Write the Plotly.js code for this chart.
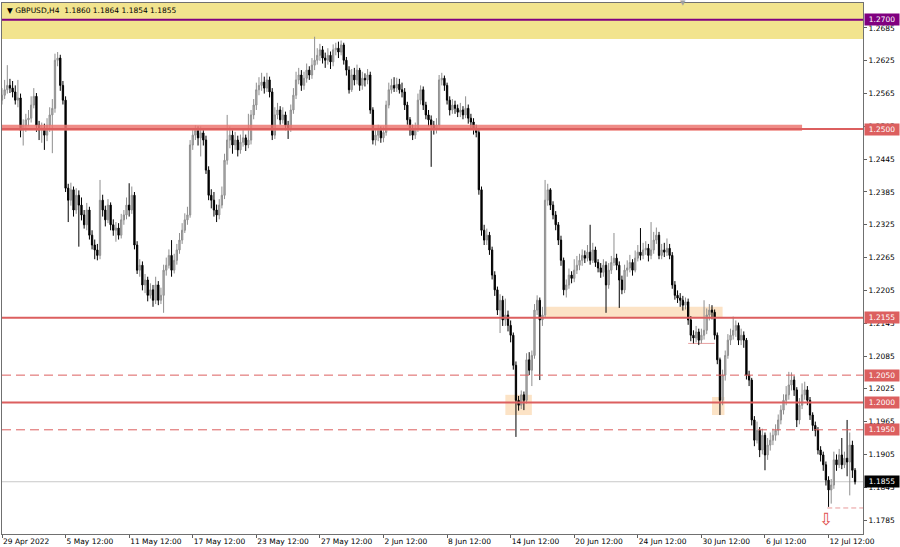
<!DOCTYPE html>
<html><head><meta charset="utf-8">
<script src="https://cdn.plot.ly/plotly-3.0.1.min.js"></script>
<style>html,body{margin:0;padding:0;background:#fff;}#chart{width:900px;height:547px;}</style>
</head><body><div id="chart"></div>
<script>
// GBPUSD H4 bars, 29 Apr 2022 12:00 onward (one value per bar)
const firstOpen = 1.2553;
const closes = [
1.2562,1.2572,1.2580,1.2575,1.2568,1.2553,1.2557,1.2498,1.2507,1.2517,
1.2520,1.2544,1.2560,1.2507,1.2498,1.2502,1.2489,1.2507,1.2526,1.2538,
1.2626,1.2630,1.2580,1.2553,1.2392,1.2370,1.2389,1.2352,1.2379,1.2361,
1.2343,1.2325,1.2352,1.2306,1.2288,1.2279,1.2269,1.2370,1.2352,1.2334,
1.2361,1.2325,1.2315,1.2319,1.2306,1.2334,1.2343,1.2361,1.2352,1.2379,
1.2288,1.2242,1.2251,1.2215,1.2224,1.2196,1.2206,1.2187,1.2215,1.2187,
1.2196,1.2242,1.2251,1.2269,1.2242,1.2260,1.2279,1.2297,1.2315,1.2334,
1.2343,1.2471,1.2489,1.2498,1.2484,1.2493,1.2480,1.2425,1.2379,1.2370,
1.2352,1.2343,1.2361,1.2379,1.2443,1.2480,1.2489,1.2471,1.2480,1.2462,
1.2476,1.2484,1.2471,1.2480,1.2526,1.2544,1.2572,1.2580,1.2586,1.2575,
1.2590,1.2568,1.2489,1.2526,1.2535,1.2517,1.2526,1.2507,1.2502,1.2535,
1.2562,1.2590,1.2599,1.2580,1.2593,1.2608,1.2599,1.2617,1.2626,1.2635,
1.2645,1.2630,1.2626,1.2635,1.2623,1.2645,1.2648,1.2641,1.2654,1.2626,
1.2608,1.2572,1.2599,1.2590,1.2608,1.2580,1.2593,1.2590,1.2599,1.2535,
1.2480,1.2489,1.2498,1.2484,1.2494,1.2544,1.2572,1.2580,1.2575,1.2582,
1.2572,1.2568,1.2544,1.2517,1.2498,1.2489,1.2502,1.2553,1.2572,1.2544,
1.2526,1.2517,1.2507,1.2502,1.2507,1.2590,1.2593,1.2580,1.2553,1.2535,
1.2544,1.2538,1.2531,1.2535,1.2526,1.2538,1.2520,1.2513,1.2502,1.2494,
1.2389,1.2315,1.2297,1.2306,1.2279,1.2233,1.2206,1.2169,1.2187,1.2151,
1.2160,1.2141,1.2123,1.2068,1.2004,1.1995,1.2014,1.2004,1.2078,1.2059,
1.2086,1.2169,1.2187,1.2151,1.2160,1.2370,1.2389,1.2361,1.2343,1.2325,
1.2297,1.2260,1.2206,1.2215,1.2233,1.2227,1.2242,1.2251,1.2260,1.2269,
1.2264,1.2275,1.2260,1.2279,1.2256,1.2246,1.2238,1.2251,1.2215,1.2242,
1.2256,1.2264,1.2251,1.2224,1.2206,1.2242,1.2246,1.2256,1.2242,1.2264,
1.2275,1.2269,1.2279,1.2282,1.2269,1.2279,1.2297,1.2306,1.2269,1.2279,
1.2275,1.2282,1.2269,1.2215,1.2196,1.2191,1.2187,1.2178,1.2184,1.2151,
1.2123,1.2118,1.2129,1.2114,1.2123,1.2132,1.2160,1.2169,1.2165,1.2123,
1.2078,1.2004,1.2050,1.2086,1.2114,1.2123,1.2132,1.2141,1.2114,1.2123,
1.2114,1.2050,1.2041,1.1968,1.1931,1.1949,1.1913,1.1940,1.1904,1.1922,
1.1931,1.1940,1.1949,1.1968,1.1986,1.2004,1.2014,1.2032,1.2041,1.2023,
1.1968,1.1995,1.2014,1.2023,1.2004,1.1977,1.1958,1.1949,1.1913,1.1904,
1.1886,1.1858,1.1840,1.1849,1.1895,1.1886,1.1904,1.1886,1.1898,1.1891,
1.1922,1.1876,1.1855];
const highs = [
1.2575,1.2590,1.2617,1.2592,1.2588,1.2580,1.2590,1.2565,1.2518,1.2528,
1.2535,1.2560,1.2575,1.2566,1.2515,1.2512,1.2510,1.2520,1.2540,1.2555,
1.2638,1.2641,1.2636,1.2588,1.2560,1.2400,1.2402,1.2395,1.2392,1.2388,
1.2375,1.2352,1.2365,1.2358,1.2315,1.2298,1.2290,1.2407,1.2380,1.2360,
1.2372,1.2366,1.2335,1.2330,1.2328,1.2345,1.2352,1.2375,1.2401,1.2395,
1.2385,1.2295,1.2262,1.2258,1.2235,1.2230,1.2218,1.2215,1.2230,1.2222,
1.2210,1.2252,1.2265,1.2280,1.2297,1.2272,1.2290,1.2310,1.2328,1.2346,
1.2358,1.2480,1.2500,1.2507,1.2505,1.2505,1.2502,1.2488,1.2432,1.2390,
1.2385,1.2362,1.2372,1.2395,1.2455,1.2526,1.2505,1.2498,1.2495,1.2488,
1.2490,1.2500,1.2490,1.2528,1.2535,1.2555,1.2585,1.2595,1.2603,1.2596,
1.2603,1.2596,1.2575,1.2540,1.2548,1.2542,1.2540,1.2532,1.2515,1.2545,
1.2575,1.2605,1.2612,1.2608,1.2605,1.2620,1.2615,1.2630,1.2669,1.2648,
1.2656,1.2652,1.2640,1.2648,1.2642,1.2655,1.2658,1.2660,1.2662,1.2658,
1.2632,1.2615,1.2610,1.2612,1.2618,1.2612,1.2605,1.2602,1.2610,1.2605,
1.2540,1.2500,1.2508,1.2505,1.2505,1.2552,1.2585,1.2592,1.2595,1.2594,
1.2592,1.2585,1.2575,1.2550,1.2522,1.2508,1.2512,1.2565,1.2580,1.2578,
1.2550,1.2535,1.2525,1.2515,1.2520,1.2599,1.2603,1.2598,1.2585,1.2560,
1.2555,1.2552,1.2545,1.2548,1.2542,1.2560,1.2545,1.2528,1.2520,1.2508,
1.2500,1.2395,1.2325,1.2318,1.2312,1.2285,1.2240,1.2212,1.2198,1.2195,
1.2190,1.2168,1.2150,1.2128,1.2075,1.2012,1.2022,1.2020,1.2090,1.2092,
1.2095,1.2180,1.2196,1.2192,1.2175,1.2407,1.2400,1.2392,1.2368,1.2350,
1.2330,1.2305,1.2265,1.2225,1.2245,1.2240,1.2262,1.2268,1.2272,1.2280,
1.2278,1.2288,1.2325,1.2292,1.2285,1.2262,1.2255,1.2262,1.2258,1.2255,
1.2268,1.2310,1.2272,1.2258,1.2232,1.2252,1.2260,1.2270,1.2262,1.2278,
1.2288,1.2319,1.2292,1.2295,1.2290,1.2330,1.2312,1.2320,1.2312,1.2290,
1.2292,1.2300,1.2290,1.2275,1.2222,1.2205,1.2200,1.2195,1.2192,1.2190,
1.2158,1.2132,1.2140,1.2135,1.2135,1.2187,1.2172,1.2180,1.2178,1.2170,
1.2128,1.2082,1.2060,1.2095,1.2125,1.2135,1.2157,1.2150,1.2146,1.2135,
1.2130,1.2118,1.2058,1.2045,1.1975,1.1965,1.1955,1.1952,1.1945,1.1935,
1.1945,1.1952,1.1960,1.1978,1.1995,1.2015,1.2030,1.2056,1.2055,1.2048,
1.2028,1.2008,1.2035,1.2038,1.2030,1.2010,1.1982,1.1965,1.1955,1.1920,
1.1910,1.1892,1.1865,1.1860,1.1910,1.1905,1.1915,1.1935,1.1910,1.1968,
1.1945,1.1930,1.1880];
const lows = [
1.2545,1.2555,1.2565,1.2566,1.2558,1.2545,1.2540,1.2485,1.2470,1.2495,
1.2505,1.2512,1.2538,1.2495,1.2480,1.2475,1.2462,1.2478,1.2495,1.2456,
1.2530,1.2615,1.2570,1.2545,1.2385,1.2330,1.2360,1.2340,1.2345,1.2285,
1.2333,1.2318,1.2315,1.2298,1.2280,1.2262,1.2260,1.2262,1.2340,1.2322,
1.2328,1.2315,1.2305,1.2294,1.2298,1.2300,1.2325,1.2335,1.2340,1.2345,
1.2280,1.2235,1.2230,1.2205,1.2200,1.2185,1.2190,1.2175,1.2180,1.2178,
1.2180,1.2164,1.2232,1.2245,1.2230,1.2236,1.2252,1.2272,1.2290,1.2310,
1.2325,1.2338,1.2462,1.2480,1.2470,1.2450,1.2470,1.2418,1.2370,1.2355,
1.2340,1.2330,1.2335,1.2355,1.2372,1.2435,1.2465,1.2455,1.2462,1.2450,
1.2455,1.2468,1.2460,1.2465,1.2472,1.2518,1.2535,1.2562,1.2570,1.2565,
1.2568,1.2558,1.2480,1.2482,1.2518,1.2508,1.2510,1.2498,1.2482,1.2495,
1.2528,1.2555,1.2582,1.2570,1.2572,1.2585,1.2590,1.2592,1.2608,1.2618,
1.2625,1.2620,1.2612,1.2618,1.2610,1.2615,1.2635,1.2630,1.2635,1.2618,
1.2598,1.2565,1.2568,1.2580,1.2582,1.2570,1.2572,1.2578,1.2582,1.2528,
1.2472,1.2470,1.2478,1.2475,1.2476,1.2488,1.2538,1.2565,1.2568,1.2568,
1.2565,1.2558,1.2535,1.2508,1.2488,1.2480,1.2482,1.2495,1.2545,1.2535,
1.2518,1.2505,1.2431,1.2490,1.2492,1.2500,1.2580,1.2570,1.2545,1.2525,
1.2528,1.2528,1.2522,1.2522,1.2518,1.2520,1.2510,1.2500,1.2490,1.2485,
1.2380,1.2305,1.2288,1.2288,1.2270,1.2225,1.2195,1.2160,1.2127,1.2140,
1.2140,1.2130,1.2110,1.2060,1.1937,1.1985,1.1988,1.1986,1.1998,1.2050,
1.2030,1.2080,1.2160,1.2041,1.2140,1.2155,1.2360,1.2352,1.2335,1.2315,
1.2288,1.2250,1.2196,1.2192,1.2208,1.2218,1.2220,1.2235,1.2242,1.2250,
1.2255,1.2258,1.2252,1.2255,1.2248,1.2238,1.2228,1.2230,1.2164,1.2208,
1.2235,1.2250,1.2242,1.2173,1.2198,1.2200,1.2230,1.2238,1.2232,1.2238,
1.2258,1.2260,1.2262,1.2270,1.2258,1.2262,1.2272,1.2290,1.2262,1.2262,
1.2266,1.2268,1.2262,1.2208,1.2188,1.2182,1.2175,1.2168,1.2170,1.2142,
1.2112,1.2108,1.2110,1.2105,1.2108,1.2115,1.2125,1.2150,1.2152,1.2115,
1.2070,1.1977,1.1995,1.2040,1.2080,1.2105,1.2115,1.2120,1.2105,1.2105,
1.2100,1.2042,1.2030,1.1958,1.1920,1.1925,1.1900,1.1905,1.1876,1.1895,
1.1912,1.1922,1.1930,1.1940,1.1960,1.1978,1.1995,1.2005,1.2022,1.2012,
1.1955,1.1960,1.1988,1.2005,1.1995,1.1968,1.1948,1.1938,1.1905,1.1892,
1.1875,1.1848,1.1809,1.1815,1.1842,1.1875,1.1880,1.1878,1.1880,1.1865,
1.1830,1.1862,1.1850];

const tickBars = [0,24,48,72,96,120,144,168,192,216,240,264,288,312];
const tickLabels = ['29 Apr 2022','5 May 12:00','11 May 12:00','17 May 12:00','23 May 12:00','27 May 12:00','2 Jun 12:00','8 Jun 12:00','14 Jun 12:00','20 Jun 12:00','24 Jun 12:00','30 Jun 12:00','6 Jul 12:00','12 Jul 12:00'];
const yTicks = [1.1785,1.1845,1.1905,1.1965,1.2025,1.2085,1.2145,1.2205,1.2265,1.2325,1.2385,1.2445,1.2505,1.2565,1.2625,1.2685];

// horizontal levels
const levelPrices = [1.2700,1.2500,1.2155,1.2050,1.2000,1.1950];
const levelColors = ['#800080','#dc5f5f','#dc5f5f','#dc5f5f','#dc5f5f','#dc5f5f'];
const levelDash = ['solid','solid','solid','dash','solid','dash'];
const levelWidth = [2,2,2,1,2,1];
const lastPrice = 1.1855;
const headerText = 'GBPUSD,H4\u00a0\u00a01.1860 1.1864 1.1854 1.1855';

// zones: [x0 bar, x1 bar, price low, price high]
const zoneBar0 = [190,205,268];
const zoneBar1 = [200,272,272.7];
const zoneLow = [1.1977,1.2155,1.1977];
const zoneHigh = [1.2014,1.2175,1.2010];
const yellowZone = [1.2665,1.2740];
const band1250 = [0,302,1.2497,1.2508];
const lowMarkPrice = 1.1807, lowMarkBar = 311.5;
const boxLinePrice = 1.2108, boxLineBars = [259,269];
const arrowBar = 311, arrowPrice = 1.1786;

const n = closes.length;
const xs = closes.map((_, i) => i);
const opens = [firstOpen].concat(closes.slice(0, n - 1));

const shapes = [];
shapes.push({type:'rect', xref:'paper', x0:0, x1:1, yref:'y', y0:yellowZone[0], y1:yellowZone[1], fillcolor:'#f2e48e', line:{width:0}, layer:'below'});
for (let k = 0; k < zoneBar0.length; k++) {
  shapes.push({type:'rect', xref:'x', x0:zoneBar0[k], x1:zoneBar1[k], yref:'y', y0:zoneLow[k], y1:zoneHigh[k], fillcolor:'#fce3c6', line:{width:0}, layer:'below'});
}
shapes.push({type:'rect', xref:'x', x0:band1250[0], x1:band1250[1], yref:'y', y0:band1250[2], y1:band1250[3], fillcolor:'rgba(236,120,114,0.85)', line:{width:0}, layer:'above'});
for (let k = 0; k < levelPrices.length; k++) {
  shapes.push({type:'line', xref:'paper', x0:0, x1:1, yref:'y', y0:levelPrices[k], y1:levelPrices[k], line:{color:levelColors[k], width:levelWidth[k], dash: levelDash[k]==='dash' ? '9px,5px' : 'solid'}, layer:'above'});
}
shapes.push({type:'line', xref:'paper', x0:0, x1:1, yref:'y', y0:lastPrice, y1:lastPrice, line:{color:'#c8c8c8', width:1}, layer:'below'});
shapes.push({type:'line', xref:'x', x0:lowMarkBar, x1:326, yref:'y', y0:lowMarkPrice, y1:lowMarkPrice, line:{color:'#e89a9a', width:1, dash:'5px,3px'}, layer:'above'});
shapes.push({type:'line', xref:'x', x0:boxLineBars[0], x1:boxLineBars[1], yref:'y', y0:boxLinePrice, y1:boxLinePrice, line:{color:'#e8a0a0', width:1}, layer:'below'});

const annotations = [];
annotations.push({xref:'paper', yref:'paper', x:0, y:1, xanchor:'left', yanchor:'top', xshift:3, yshift:-1, showarrow:false,
  text:'\u25BC\u00a0'+headerText, font:{family:'DejaVu Sans', size:7.5, color:'#000'}});
for (let k = 0; k < levelPrices.length; k++) {
  annotations.push({xref:'paper', yref:'y', x:1, y:levelPrices[k], xanchor:'left', yanchor:'middle', xshift:1, showarrow:false,
    text:levelPrices[k].toFixed(4), bgcolor:levelColors[k], borderpad:1, width:32,
    font:{family:'DejaVu Sans', size:7.5, color:'#fff'}});
}
annotations.push({xref:'paper', yref:'y', x:1, y:lastPrice, xanchor:'left', yanchor:'middle', xshift:1, showarrow:false,
  text:lastPrice.toFixed(4), bgcolor:'#000', borderpad:1, width:32, font:{family:'DejaVu Sans', size:7.5, color:'#fff'}});
annotations.push({xref:'x', yref:'y', x:arrowBar, y:arrowPrice, showarrow:false, text:'\u21E9', font:{family:'DejaVu Sans', size:17, color:'#e05050'}});
annotations.push({xref:'paper', yref:'paper', x:0.797, y:1, yanchor:'middle', showarrow:false, text:'\u25BC', font:{family:'DejaVu Sans', size:7, color:'#a0a0a0'}});

const trace = {
  type:'candlestick', x:xs, open:opens, high:highs, low:lows, close:closes,
  increasing:{line:{color:'#8f8f8f', width:1}, fillcolor:'#b4b4b4'},
  decreasing:{line:{color:'#000000', width:1}, fillcolor:'#000000'},
  whiskerwidth:0, hoverinfo:'none', showlegend:false
};

const layout = {
  width:900, height:547,
  margin:{l:2, r:37, t:3, b:13, pad:0},
  paper_bgcolor:'#ffffff', plot_bgcolor:'#ffffff',
  showlegend:false,
  xaxis:{type:'linear', range:[0, 325], rangeslider:{visible:false}, showgrid:false, zeroline:false,
    tickmode:'array', tickvals:tickBars, ticktext:tickLabels, ticks:'outside', ticklen:3, tickcolor:'#606060',
    ticklabelposition:'outside right', tickangle:0,
    tickfont:{family:'DejaVu Sans', size:7.5, color:'#000'},
    showline:true, linecolor:'#707070', linewidth:1, mirror:true, automargin:false, fixedrange:true},
  yaxis:{side:'right', range:[1.17594, 1.27307], showgrid:false, zeroline:false,
    tickmode:'array', tickvals:yTicks, ticktext:yTicks.map(v => v.toFixed(4)), ticks:'outside', ticklen:3, tickcolor:'#606060',
    tickfont:{family:'DejaVu Sans', size:7.5, color:'#000'},
    showline:true, linecolor:'#707070', linewidth:1, mirror:true, automargin:false, fixedrange:true},
  shapes:shapes, annotations:annotations, dragmode:false
};

Plotly.newPlot('chart', [trace], layout, {displayModeBar:false, staticPlot:true});
</script>
</body></html>
